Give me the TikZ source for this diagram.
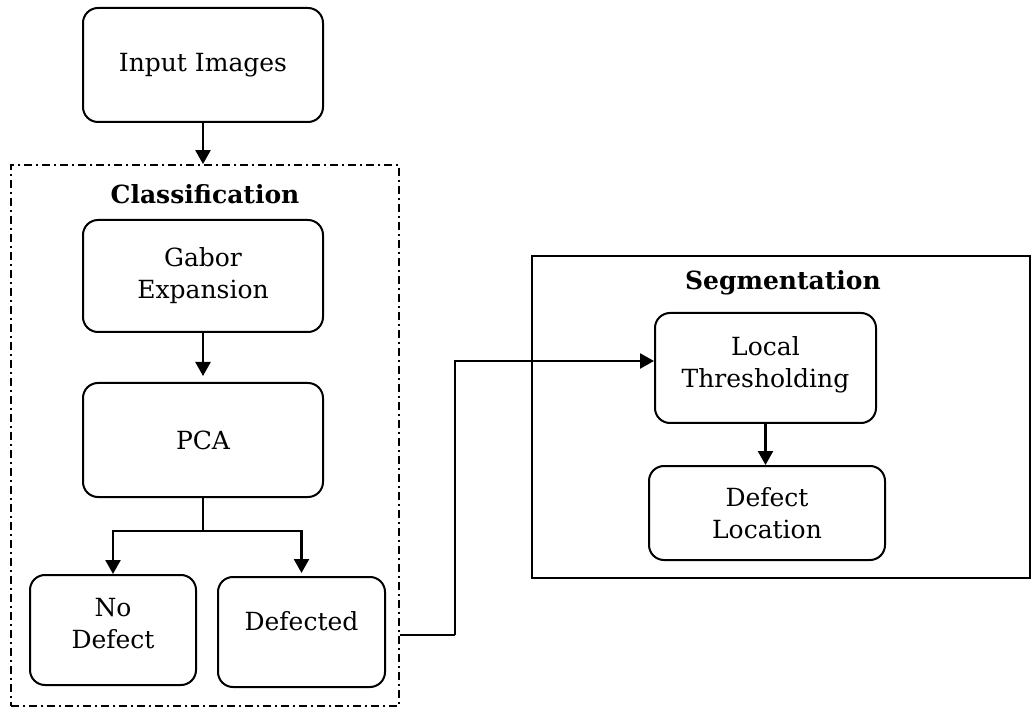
\documentclass[tikz,border=0pt]{standalone}
\usepackage{fontspec}
\setmainfont{DejaVu Serif}
\usetikzlibrary{arrows.meta,calc}
\begin{document}
\begin{tikzpicture}[x=1pt,y=-1pt,
  box/.style={draw,line width=2pt,rounded corners=15pt,align=center,font=\fontsize{25}{32}\selectfont,inner sep=0pt},
  grp/.style={draw,line width=1.8pt,inner sep=0pt},
  lbl/.style={font=\fontsize{25}{32}\selectfont\bfseries},
  arr/.style={line width=2.4pt,-{Triangle[length=14pt,width=15pt]}},
  ln/.style={line width=2pt}]
\useasboundingbox (0,0) rectangle (1031,708);
% groups
\node[grp,dash pattern=on 8pt off 4pt on 2pt off 4pt,minimum width=388pt,minimum height=541pt] (cls) at (205,435.5) {};
\node[lbl] (clsl) at (205,194) {Classification};
\node[grp,minimum width=498pt,minimum height=322pt] (seg) at (781,417) {};
\node[lbl] (segl) at (783,283) {Segmentation};
% boxes
\node[box,minimum width=240pt,minimum height=114pt] (inp) at (203,65) {Input Images};
\node[box,minimum width=240pt,minimum height=112pt] (gab) at (203,276) {Gabor\\Expansion};
\node[box,minimum width=240pt,minimum height=114pt] (pca) at (203,440) {PCA};
\node[box,minimum width=166pt,minimum height=110pt,text depth=14pt] (nod) at (113,630) {No\\Defect};
\node[box,minimum width=167pt,minimum height=110pt,text depth=22pt] (def) at (301.5,632) {Defected};
\node[box,minimum width=221pt,minimum height=110pt,text depth=12pt] (loc) at (765.5,368) {Local\\Thresholding};
\node[box,minimum width=236pt,minimum height=94pt] (dl) at (767,513) {Defect\\Location};
% connectors
\draw[arr] (inp.south) -- (cls.north -| inp.south);
\draw[arr] (gab.south) -- ($(pca.north)+(0,-6)$);
\coordinate (split) at ($(pca.south)+(0,33)$);
\draw[ln] (pca.south) -- (split);
\draw[arr] (split) -| (nod.north);
\draw[arr] (split) -| ($(def.north)+(0,-3)$);
\coordinate (bend) at (455,635);
\draw[ln] (cls.east |- bend) -- (bend);
\draw[arr] (bend) |- ($(loc.west)+(0,-7)$);
\draw[arr] (loc.south) -- (loc.south |- dl.north);
\end{tikzpicture}
\end{document}
